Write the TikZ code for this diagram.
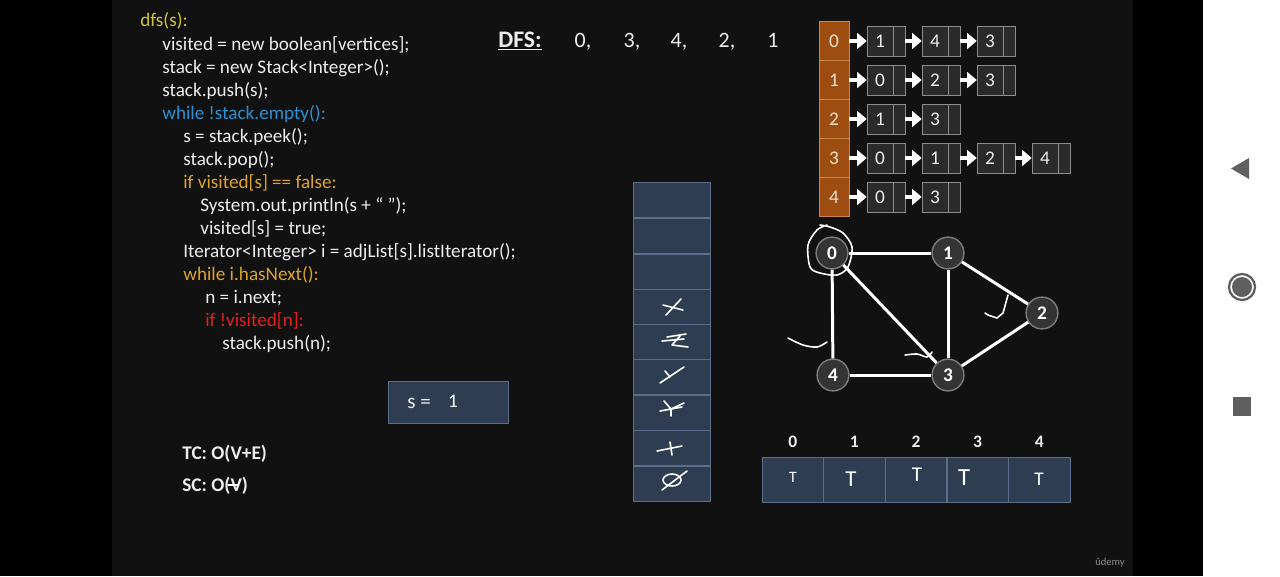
\documentclass[tikz,border=0pt]{standalone}
\usepackage{fontspec}
\setmainfont{Carlito}
\usepackage{tikz}
\usetikzlibrary{arrows.meta}
\definecolor{slidebg}{HTML}{111111}
\definecolor{codewhite}{HTML}{EDEDED}
\definecolor{codeyellow}{HTML}{CFC53A}
\definecolor{codeblue}{HTML}{2C90D2}
\definecolor{codegold}{HTML}{DCA52A}
\definecolor{codered}{HTML}{E3201E}
\definecolor{adjfill}{HTML}{9E4D10}
\definecolor{adjline}{HTML}{C98448}
\definecolor{adjtext}{HTML}{F4E2CC}
\definecolor{nodefill}{HTML}{2A2A2A}
\definecolor{nodeline}{HTML}{8C8C8C}
\definecolor{slatefill}{HTML}{2F3D53}
\definecolor{slateline}{HTML}{5A6E8C}
\definecolor{vtxfill}{HTML}{343434}
\definecolor{vtxline}{HTML}{7C7C7C}
\definecolor{navgray}{HTML}{5F5F5F}
\tikzset{codeln/.style={anchor=base west,inner sep=0pt,text=codewhite,font=\fontsize{10.9}{12}\selectfont},
  ptr/.style={-{Triangle[length=5.5pt,width=9pt]},draw=white,line width=2.4pt},
  hand/.style={draw=white,line width=0.9pt,line cap=round,line join=round},
  handtxt/.style={inner sep=0pt,text=white}}

\begin{document}
\begin{tikzpicture}[x=0.02cm,y=-0.02cm,
  adjcell/.style={draw=adjline,fill=adjfill,text=adjtext,minimum width=17pt,minimum height=22.1pt,inner sep=0pt,font=\fontsize{11}{13}\selectfont},
  lnode/.style={draw=nodeline,fill=nodefill,text=codewhite,minimum width=21.5pt,minimum height=17pt,inner sep=0pt,font=\fontsize{11}{13}\selectfont,execute at end node={\hspace*{6.8pt}},
    path picture={\draw[nodeline] ([xshift=-6.8pt]path picture bounding box.north east)--([xshift=-6.8pt]path picture bounding box.south east);}},
  stcell/.style={draw=slateline,fill=slatefill,minimum width=44.2pt,minimum height=20.1pt,inner sep=0pt},
  viscell/.style={draw=slateline,fill=slatefill,minimum width=34.9pt,minimum height=25.5pt,inner sep=0pt},
  vtx/.style={circle,draw=vtxline,line width=0.8pt,fill=vtxfill,text=white,minimum size=18.1pt,inner sep=0pt,font=\bfseries\fontsize{11}{13}\selectfont},
  edge/.style={draw=white,line width=1.7pt},
  idx/.style={inner sep=0pt,text=codewhite,font=\bfseries\fontsize{10}{12}\selectfont}]
% screen
\fill[black] (0,0) rectangle (1280,576);
\fill[slidebg] (112,0) rectangle (1133,576);
\fill[white] (1203,0) rectangle (1280,576);
\useasboundingbox (0,0) rectangle (1280,576);
% code
\node[codeln,text=codeyellow] (dfs) at (140,26) {dfs(s):};
\node[codeln] (visinit) at (162,50) {visited = new boolean[vertices];};
\node[codeln] (stinit) at (162,73) {stack = new Stack<Integer>();};
\node[codeln] (pushs) at (162,96) {stack.push(s);};
\node[codeln,text=codeblue] (outer) at (162,119) {while !stack.empty():};
\node[codeln] (peek) at (183,142) {s = stack.peek();};
\node[codeln] (pop) at (183,165) {stack.pop();};
\node[codeln,text=codegold] (ifvis) at (183,188) {if visited[s] == false:};
\node[codeln] (print) at (200,211) {System.out.println(s + “ ”);};
\node[codeln] (mark) at (200,234) {visited[s] = true;};
\node[codeln] (iter) at (183,257) {Iterator<Integer> i = adjList[s].listIterator();};
\node[codeln,text=codegold] (inner) at (183,280) {while i.hasNext():};
\node[codeln] (next) at (205,303) {n = i.next;};
\node[codeln,text=codered] (ifnot) at (205,326) {if !visited[n]:};
\node[codeln] (pushn) at (222,349) {stack.push(n);};
% output
\node[inner sep=0pt,text=codewhite,font=\bfseries\fontsize{13.5}{15}\selectfont,anchor=base] (dfshead) at (520,47) {\underline{DFS:}};
\node[inner sep=0pt,text=codewhite,font=\fontsize{12.5}{14}\selectfont,anchor=base] (o1) at (583,47) {0,};
\node[inner sep=0pt,text=codewhite,font=\fontsize{12.5}{14}\selectfont,anchor=base] (o2) at (632,47) {3,};
\node[inner sep=0pt,text=codewhite,font=\fontsize{12.5}{14}\selectfont,anchor=base] (o3) at (679,47) {4,};
\node[inner sep=0pt,text=codewhite,font=\fontsize{12.5}{14}\selectfont,anchor=base] (o4) at (727,47) {2,};
\node[inner sep=0pt,text=codewhite,font=\fontsize{12.5}{14}\selectfont,anchor=base] (o5) at (773,47) {1};
% adjacency list
\node[adjcell] (a0) at (834,41) {0};
\node[adjcell] (a1) at (834,80) {1};
\node[adjcell] (a2) at (834,119) {2};
\node[adjcell] (a3) at (834,158) {3};
\node[adjcell] (a4) at (834,197) {4};
\node[lnode] (l01) at (886,41) {1};\node[lnode] (l02) at (941,41) {4};\node[lnode] (l03) at (996,41) {3};
\node[lnode] (l11) at (886,80) {0};\node[lnode] (l12) at (941,80) {2};\node[lnode] (l13) at (996,80) {3};
\node[lnode] (l21) at (886,119) {1};\node[lnode] (l22) at (941,119) {3};
\node[lnode] (l31) at (886,158) {0};\node[lnode] (l32) at (941,158) {1};\node[lnode] (l33) at (996,158) {2};\node[lnode] (l34) at (1051,158) {4};
\node[lnode] (l41) at (886,197) {0};\node[lnode] (l42) at (941,197) {3};
\draw[ptr] (a0)--(l01);\draw[ptr] (l01)--(l02);\draw[ptr] (l02)--(l03);
\draw[ptr] (a1)--(l11);\draw[ptr] (l11)--(l12);\draw[ptr] (l12)--(l13);
\draw[ptr] (a2)--(l21);\draw[ptr] (l21)--(l22);
\draw[ptr] (a3)--(l31);\draw[ptr] (l31)--(l32);\draw[ptr] (l32)--(l33);\draw[ptr] (l33)--(l34);
\draw[ptr] (a4)--(l41);\draw[ptr] (l41)--(l42);
% stack
\node[stcell] (st1) at (672,200) {};
\node[stcell] (st2) at (672,236) {};
\node[stcell] (st3) at (672,271.5) {};
\node[stcell] (st4) at (672,306.5) {};
\node[stcell] (st5) at (672,341.5) {};
\node[stcell] (st6) at (672,377) {};
\node[stcell] (st7) at (672,412.5) {};
\node[stcell] (st8) at (672,447.5) {};
\node[stcell] (st9) at (672,483.5) {};
\draw[hand] (666,315)--(681,299) (663,305)--(683,310);
\draw[hand] (667,337)--(686,334) (680,336)--(672,345)--(688,347) (662,341)--(684,339);
\draw[hand] (660,383)--(684,367) (665,371)--(670,377);
\draw[hand] (664,401)--(671,409)--(671,416) (671,409)--(684,403) (660,411)--(682,407);
\draw[hand] (657,451)--(682,446) (670,442)--(672,455);
\draw[hand] (672,480) ellipse (9 and 6) (662,490)--(687,471);
% graph
\node[vtx] (v0) at (832,253) {0};
\node[vtx] (v1) at (948,253) {1};
\node[vtx] (v2) at (1042,313) {2};
\node[vtx] (v3) at (948,375) {3};
\node[vtx] (v4) at (833,375) {4};
\draw[edge] (v0)--(v1);\draw[edge] (v0)--(v4);\draw[edge] (v0)--(v3);
\draw[edge] (v1)--(v3);\draw[edge] (v1)--(v2);\draw[edge] (v2)--(v3);\draw[edge] (v4)--(v3);
\draw[hand] plot[smooth] coordinates {(820,225) (830,227) (843,233) (852,247) (848,267) (837,275) (820,273) (810,267) (808,245) (817,230) (827,225)};
\draw[hand] (1008,295)--(1003,313)--(997,318)--(988,315)--(985,313);
\draw[hand] plot[smooth] coordinates {(788,338) (803,345) (817,347) (827,342)};
\draw[hand] plot[smooth] coordinates {(905,355) (917,354) (927,357) (932,352)};
% visited
\node[idx] (i0) at (792.8,442) {0};\node[idx] (i1) at (854.4,442) {1};\node[idx] (i2) at (916,442) {2};
\node[idx] (i3) at (977.6,442) {3};\node[idx] (i4) at (1039.2,442) {4};
\node[viscell] (b0) at (792.8,480) {};\node[viscell] (b1) at (854.4,480) {};\node[viscell] (b2) at (916,480) {};
\node[viscell] (b3) at (977.6,480) {};\node[viscell] (b4) at (1039.2,480) {};
\node[handtxt,font=\fontsize{9}{10}\selectfont] (t0) at (793,477) {T};
\node[handtxt,font=\fontsize{13}{14}\selectfont] (t1) at (851,479) {T};
\node[handtxt,font=\fontsize{12}{13}\selectfont] (t2) at (917,475) {T};
\node[handtxt,font=\fontsize{14}{16}\selectfont] (t3) at (964,478) {T};
\node[handtxt,font=\fontsize{11}{12}\selectfont] (t4) at (1039,479) {T};
% current vertex
\node[draw=slateline,fill=slatefill,minimum width=68.6pt,minimum height=23.8pt,inner sep=0pt] (sbox) at (448.5,402) {};
\node[inner sep=0pt,text=codewhite,font=\fontsize{12}{13}\selectfont,anchor=west] (slabel) at (407,403) {s =};
\node[handtxt,font=\fontsize{11}{12}\selectfont] (sone) at (453,401) {1};
% complexity
\node[codeln,font=\bfseries\fontsize{11}{13}\selectfont] (tc) at (182,459) {TC: O(V+E)};
\node[codeln,font=\bfseries\fontsize{11}{13}\selectfont] (sc) at (182,491) {SC: O(V)};
\draw[hand,line width=0.7pt] (228,485)--(238,485);
\node[inner sep=0pt,text=nodeline,font=\fontsize{6}{7}\selectfont] (logo) at (1110,563) {ûdemy};
% navigation bar
\fill[navgray] (1249,158)--(1249,179)--(1231,168.5)--cycle;
\draw[navgray,line width=1.3pt] (1242,287) circle (13);
\fill[navgray] (1242,287) circle (10);
\fill[navgray] (1233,397) rectangle (1251,416);
\end{tikzpicture}
\end{document}
